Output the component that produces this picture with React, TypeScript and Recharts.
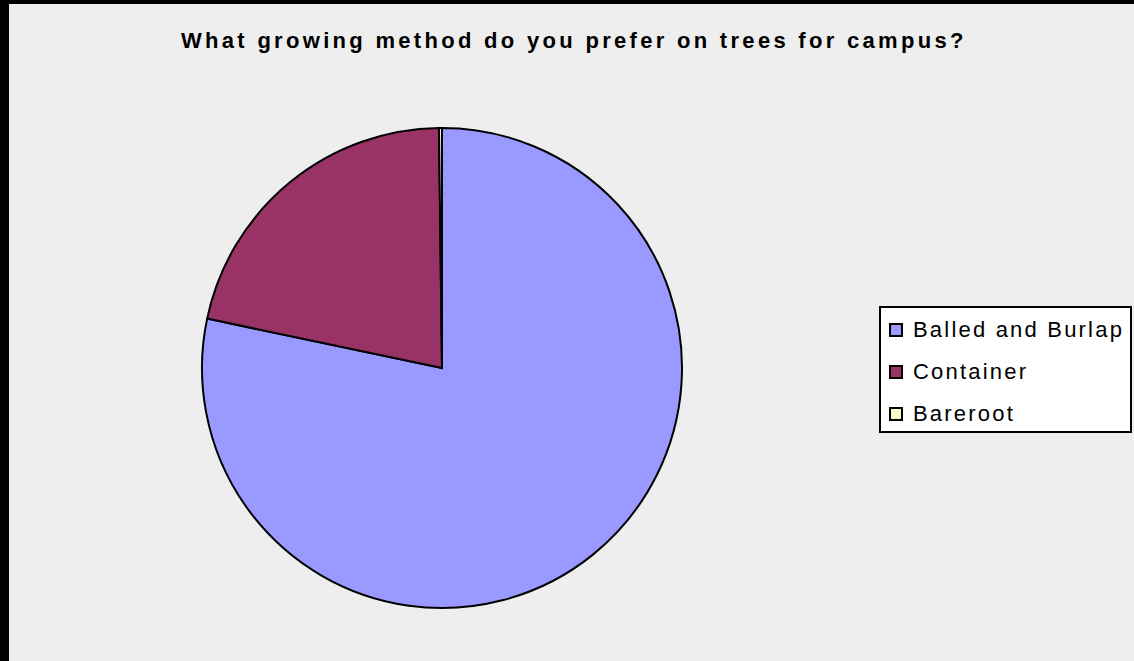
import React from "react";
import { PieChart, Pie, Cell, Legend } from "recharts";

const categories = ["Balled and Burlap", "Container", "Bareroot"];
const values = [78.3, 21.5, 0.2];
const colors = ["#9999FF", "#993366", "#FFFFCC"];
const title = "What growing method do you prefer on trees for campus?";

const data = categories.map((name, i) => ({ name, value: values[i] }));

const FONT = '"Liberation Sans", Arial, sans-serif';

const LegendContent = () => (
  <div
    style={{
      width: 253,
      height: 127,
      background: "#FFFFFF",
      border: "2px solid #000",
      boxSizing: "border-box",
      paddingTop: 1,
      fontFamily: FONT,
    }}
  >
    {categories.map((c, i) => (
      <div
        key={c}
        style={{
          display: "flex",
          alignItems: "center",
          height: 42,
          lineHeight: "42px",
        }}
      >
        <div
          style={{
            width: 10,
            height: 10,
            background: colors[i],
            border: "2px solid #000",
            marginLeft: 8,
            marginRight: 10,
            flexShrink: 0,
          }}
        />
        <span style={{ fontSize: 22, letterSpacing: 2.2, color: "#000", whiteSpace: "nowrap" }}>{c}</span>
      </div>
    ))}
  </div>
);

export default function App() {
  return (
    <div
      style={{
        position: "fixed",
        left: 0,
        top: 0,
        width: 1134,
        height: 661,
        background: "#000",
      }}
    >
      <div
        style={{
          position: "absolute",
          left: 9,
          top: 4,
          width: 1125,
          height: 657,
          background: "#EEEEEE",
        }}
      />
      <div
        style={{
          position: "absolute",
          left: 181,
          top: 28,
          whiteSpace: "nowrap",
          fontFamily: FONT,
          fontSize: 22,
          fontWeight: "bold",
          letterSpacing: 3.3,
          color: "#000",
        }}
      >
        {title}
      </div>
      <div style={{ position: "absolute", left: 0, top: 0 }}>
        <PieChart width={1134} height={661} margin={{ top: 0, right: 0, bottom: 0, left: 0 }}>
          <Pie
            data={data}
            dataKey="value"
            nameKey="name"
            cx={442}
            cy={368}
            outerRadius={240}
            startAngle={90}
            endAngle={-270}
            stroke="#000"
            strokeWidth={2}
            isAnimationActive={false}
            label={false}
            labelLine={false}
          >
            {data.map((d, i) => (
              <Cell key={d.name} fill={colors[i]} />
            ))}
          </Pie>
          <Legend
            layout="vertical"
            content={<LegendContent />}
            wrapperStyle={{ position: "absolute", left: 879, top: 306, width: 253, height: 127 }}
          />
        </PieChart>
      </div>
    </div>
  );
}
